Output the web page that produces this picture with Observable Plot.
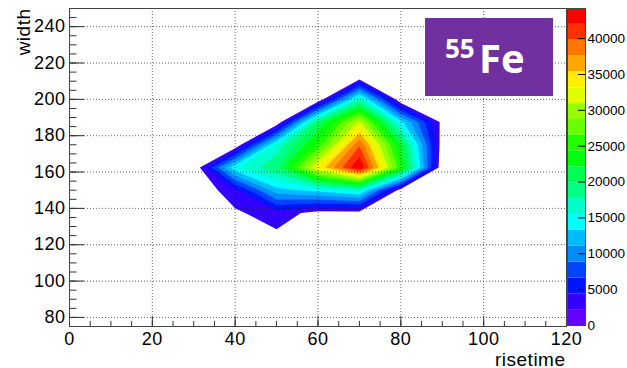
<!DOCTYPE html>
<html>
<head>
<meta charset="utf-8">
<script src="https://cdn.jsdelivr.net/npm/d3@7"></script>
<script src="https://cdn.jsdelivr.net/npm/@observablehq/plot@0.6"></script>
<style>
  body { margin: 0; background: #fff; }
  #chart { position: relative; width: 627px; height: 368px; overflow: hidden; background: #fff; }
  #chart > svg { position: absolute; left: 0; top: 0; }
  #tag { position: absolute; left: 425px; top: 18px; width: 128px; height: 78px; background: #7030a0; }
</style>
</head>
<body>
<div id="chart"></div>
<script>
// Bin centres of the risetime × width histogram
const risetime = [20, 30, 40, 50, 60, 70, 80, 90, 100];
const widthBins = [112.5, 125, 137.5, 150, 162.5, 175, 187.5, 200, 212.5];

// Counts per bin, one row per width bin (lowest width first), one column per risetime bin
const counts = [
  [0, 0, 0,     0,     0,     0,     0,    0, 0],
  [0, 0, 0,     1700,  0,     0,     0,    0, 0],
  [0, 0, 1800,  3500,  1300,  1200,  0,    0, 0],
  [0, 0, 3800,  12500, 14000, 16000, 800,  0, 0],
  [0, 0, 15000, 19500, 33500, 44200, 25000, 0, 0],
  [0, 0, 0,     16000, 25000, 39500, 22000, 800, 0],
  [0, 0, 0,     0,     20000, 31500, 14000, 1400, 0],
  [0, 0, 0,     0,     0,     17000, 0,    0, 0],
  [0, 0, 0,     0,     0,     0,     0,    0, 0]
];

// Z axis: maximum count and number of contour levels
const zMax = 44200;
const nLevels = 20;
const zTicks = [0, 5000, 10000, 15000, 20000, 25000, 30000, 35000, 40000];

// Axis ticks
const xMajor = [0, 20, 40, 60, 80, 100, 120];
const yMajor = [80, 100, 120, 140, 160, 180, 200, 220, 240];

// Rainbow palette, one colour per contour band (lowest band first)
const palette = [
  "#6300ff", "#3300ff", "#0014ff", "#0044ff", "#008bff",
  "#00bbff", "#00fffc", "#00ffcc", "#00ff85", "#00ff55",
  "#00ff0e", "#22ff00", "#69ff00", "#99ff00", "#e0ff00",
  "#ffee00", "#ffa700", "#ff7700", "#ff3000", "#ff0000"
];

const step = zMax / nLevels;
const thresholds = d3.range(1, nLevels).map(k => k * step);
const bands = d3.range(nLevels).map(k => k * step);
const colorScale = {
  type: "threshold",
  domain: d3.range(nLevels - 1).map(k => (k + 0.5) * step),
  range: palette
};

const dx = risetime[1] - risetime[0];
const dy = widthBins[1] - widthBins[0];
const values = counts.flat();

const W = 627, H = 368;
const mLeft = 69, mRight = 61, mTop = 8, mBottom = 42;
const fw = W - mLeft - mRight, fh = H - mTop - mBottom;

const xMinor = d3.range(0, 121, 5);
const yMinor = d3.range(75, 251, 5);
const axisStroke = "#333";
const gridStyle = {stroke: "#000", strokeOpacity: 0.6, strokeDasharray: "1,2"};

const main = Plot.plot({
  width: W, height: H,
  marginLeft: mLeft, marginRight: mRight, marginTop: mTop, marginBottom: mBottom,
  style: {fontFamily: "'Liberation Sans', Arial, sans-serif", fontSize: "18px", color: "#000", background: "transparent", letterSpacing: "0.5px"},
  x: {domain: [0, 120], ticks: xMajor, tickSize: 0, tickPadding: 6, tickFormat: d => `${d}`, label: null},
  y: {domain: [75, 250], ticks: yMajor, tickSize: 0, tickPadding: 4, tickFormat: d => `${d}`, label: null},
  color: colorScale,
  marks: [
    Plot.contour(values, {
      width: risetime.length, height: widthBins.length,
      x1: risetime[0] - dx / 2, x2: risetime[risetime.length - 1] + dx / 2,
      y1: widthBins[0] - dy / 2, y2: widthBins[widthBins.length - 1] + dy / 2,
      fill: Plot.identity, thresholds, stroke: "none"
    }),
    Plot.ruleX(xMajor.filter(d => d > 0 && d < 120), gridStyle),
    Plot.ruleY(yMajor, gridStyle),
    Plot.tickX(xMinor, {stroke: axisStroke, insetTop: fh - 5}),
    Plot.tickX(xMajor, {stroke: axisStroke, insetTop: fh - 10}),
    Plot.tickY(yMinor, {stroke: axisStroke, insetRight: fw - 7.5}),
    Plot.tickY(yMajor, {stroke: axisStroke, insetRight: fw - 15}),
    Plot.frame({stroke: "#444"}),
    Plot.text(["width"], {frameAnchor: "top-left", rotate: -90, textAnchor: "end", lineAnchor: "bottom", dx: -40, fontSize: 19}),
    Plot.text(["risetime"], {frameAnchor: "bottom-right", textAnchor: "end", lineAnchor: "bottom", dy: 39, dx: -1, fontSize: 19})
  ]
});

// Colour bar to the right of the frame
const bar = Plot.plot({
  width: W, height: H,
  marginLeft: 567, marginRight: 42, marginTop: 8, marginBottom: 43,
  style: {fontFamily: "'Liberation Sans', Arial, sans-serif", fontSize: "13.5px", color: "#000", background: "transparent"},
  y: {domain: [0, zMax], axis: "right", ticks: zTicks, tickSize: 0, tickPadding: 2, tickFormat: d3.format("d"), label: null},
  color: colorScale,
  marks: [
    Plot.rect(bands, {y1: d => d, y2: d => d + step, fill: d => d}),
    Plot.tickY(zTicks, {stroke: "#000", insetLeft: 11}),
    Plot.frame({stroke: "#444"})
  ]
});

const chart = document.getElementById("chart");
chart.append(main, bar);

// Source label box
const tag = document.createElement("div");
tag.id = "tag";
tag.innerHTML = `<svg width="128" height="78" font-family="'Open Sans', sans-serif" font-weight="700" fill="#fff">
  <text x="20" y="40" font-size="26">55</text>
  <text x="54" y="55" font-size="40">Fe</text>
</svg>`;
chart.append(tag);
</script>
</body>
</html>
